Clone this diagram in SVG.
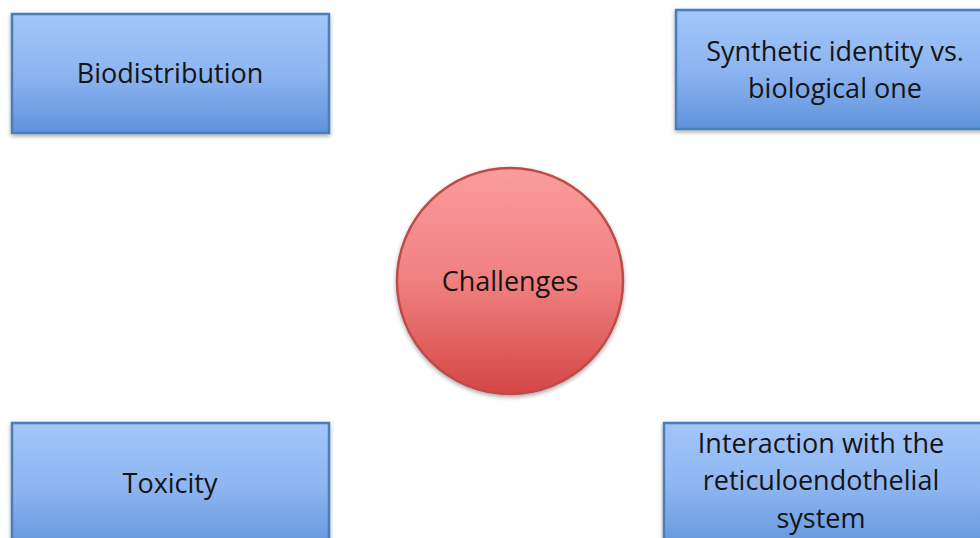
<svg xmlns="http://www.w3.org/2000/svg" width="980" height="538" viewBox="0 0 980 538">
  <defs>
    <linearGradient id="blueFill" x1="0" y1="0" x2="0" y2="1">
      <stop offset="0" stop-color="#a3c6fa"/>
      <stop offset="0.5" stop-color="#8db5f0"/>
      <stop offset="1" stop-color="#5f93dc"/>
    </linearGradient>
    <linearGradient id="redFill" x1="0" y1="0" x2="0" y2="1">
      <stop offset="0" stop-color="#fb9c9c"/>
      <stop offset="0.5" stop-color="#f08080"/>
      <stop offset="1" stop-color="#d54646"/>
    </linearGradient>
    <filter id="shadow" x="-10%" y="-10%" width="120%" height="130%">
      <feGaussianBlur in="SourceAlpha" stdDeviation="2"/>
      <feOffset dx="0" dy="2" result="b"/>
      <feComponentTransfer><feFuncA type="linear" slope="0.35"/></feComponentTransfer>
      <feMerge><feMergeNode/><feMergeNode in="SourceGraphic"/></feMerge>
    </filter>
  </defs>
  <style>
    .box { fill: url(#blueFill); stroke: #4a7ebb; stroke-width: 2.5; filter: url(#shadow); }
    .hub { fill: url(#redFill); stroke: #be4b48; stroke-width: 2.5; filter: url(#shadow); }
    .label { font-family: "Open Sans", "Noto Sans", "Liberation Sans", sans-serif; font-size: 27px; fill: #141414; text-anchor: middle; }
  </style>
  <rect width="980" height="538" fill="#ffffff"/>

  <g id="connectors"></g>

  <g id="node-biodistribution">
    <rect class="box" x="12" y="14" width="317" height="119"/>
    <text class="label" x="170" y="83">Biodistribution</text>
  </g>

  <g id="node-synthetic-identity">
    <rect class="box" x="676" y="10" width="320" height="119"/>
    <text class="label" x="835" y="61">Synthetic identity vs.</text>
    <text class="label" x="835" y="98">biological one</text>
  </g>

  <g id="node-challenges">
    <circle class="hub" cx="510" cy="281" r="113"/>
    <text class="label" x="510" y="291">Challenges</text>
  </g>

  <g id="node-toxicity">
    <rect class="box" x="12" y="423" width="317" height="130"/>
    <text class="label" x="170" y="493">Toxicity</text>
  </g>

  <g id="node-res-interaction">
    <rect class="box" x="664" y="423" width="330" height="130"/>
    <text class="label" x="821" y="453">Interaction with the</text>
    <text class="label" x="821" y="490">reticuloendothelial</text>
    <text class="label" x="821" y="528">system</text>
  </g>
</svg>
